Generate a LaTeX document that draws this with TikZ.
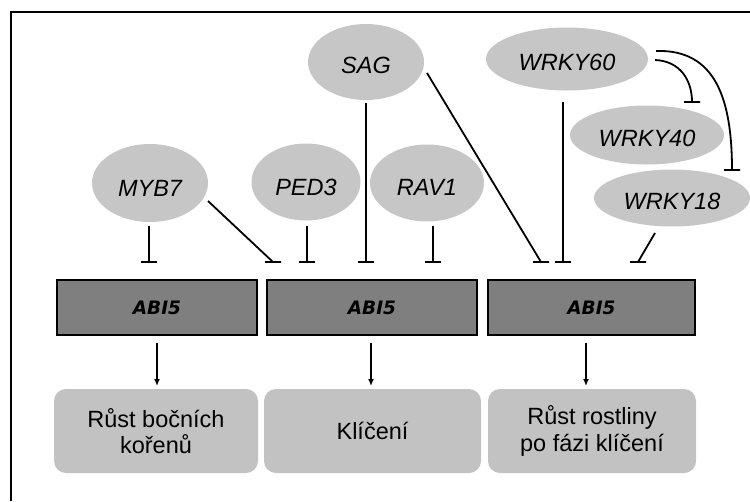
\documentclass[tikz,border=0pt]{standalone}
\usepackage{fontspec}
\setmainfont{Liberation Sans}
\newfontfamily\abifont{DejaVu Sans}
\usetikzlibrary{shapes.geometric,arrows.meta}
\definecolor{genegray}{HTML}{C6C6C6}
\definecolor{resgray}{HTML}{C2C2C2}
\definecolor{abigray}{HTML}{7F7F7F}
\begin{document}
\begin{tikzpicture}[x=1pt,y=-1pt,
  gene/.style={ellipse, fill=genegray, inner sep=0pt},
  genefont/.style={font=\itshape\fontsize{23.5}{27}\selectfont, inner sep=0pt},
  abi/.style={draw=black, line width=2pt, fill=abigray, inner sep=0pt,
    minimum height=55pt, font=\abifont\bfseries\itshape\fontsize{18.5}{20}\selectfont},
  res/.style={fill=resgray, rounded corners=12pt, align=center, inner sep=0pt,
    minimum height=84pt, font=\fontsize{23.5}{26.5}\selectfont},
  conn/.style={line width=1.8pt},
  inhib/.style={conn, to path={-- (\tikztotarget) (\tikztotarget) ++(-8,0) -- ++(16,0)}},
  act/.style={conn, -{Latex[length=7pt,width=6pt]}}]
\useasboundingbox (0,0) rectangle (750,501);
% frame
\draw[line width=2pt] (11,501) -- (11,12) -- (750,12);

% gene ellipses
\node[gene, minimum width=116pt, minimum height=78pt,
  label={[genefont,yshift=-5pt]center:MYB7}] (myb7) at (150,183) {};
\node[gene, minimum width=109pt, minimum height=77pt,
  label={[genefont,yshift=-5pt]center:PED3}] (ped3) at (306,182) {};
\node[gene, minimum width=116pt, minimum height=76pt,
  label={[genefont,yshift=-3pt]center:SAG}] (sag) at (366,62) {};
\node[gene, minimum width=114pt, minimum height=77pt,
  label={[genefont,yshift=-4pt]center:RAV1}] (rav1) at (427,183) {};
\node[gene, minimum width=162pt, minimum height=63pt,
  label={[genefont,yshift=-3pt]center:WRKY60}] (w60) at (567,59) {};
\node[gene, minimum width=154pt, minimum height=59pt,
  label={[genefont,yshift=-3pt]center:WRKY40}] (w40) at (647,135) {};
\node[gene, minimum width=156pt, minimum height=57pt,
  label={[genefont,yshift=-3pt]center:WRKY18}] (w18) at (672,198) {};

% ABI5 boxes
\node[abi, minimum width=200pt] (abi1) at (157,307.5) {ABI5};
\node[abi, minimum width=210pt] (abi2) at (372,307.5) {ABI5};
\node[abi, minimum width=207pt] (abi3) at (591.5,307.5) {ABI5};

% result boxes
\node[res, minimum width=204pt] (res1) at (156,431) {Růst bočních\\kořenů};
\node[res, minimum width=217pt] (res2) at (372.5,431) {Klíčení};
\node[res, minimum width=208pt] (res3) at (592,431) {Růst rostliny\\po fázi klíčení};

% inhibition targets
\coordinate (t1) at (149,262);
\coordinate (t2) at (273,262);
\coordinate (t3) at (307,262);
\coordinate (t4) at (366,262);
\coordinate (t5) at (433,262);
\coordinate (t6) at (541,262);
\coordinate (t7) at (563,262);
\coordinate (t8) at (638,262);
\coordinate (t9) at (692,102);
\coordinate (t10) at (732,170);

\draw[inhib] (149,226) to (t1);
\draw[inhib] (208,201) to (t2);
\draw[inhib] (307,226) to (t3);
\draw[inhib] (sag.south) ++(0,3) to (t4);
\draw[inhib] (433,226) to (t5);
\draw[inhib] (427,73) to (t6);
\draw[inhib] (w60.south) ++(-4,11) to (t7);
\draw[inhib] (655,233) to (t8);

\draw[conn] (655,60) .. controls (680,61) and (692,80) .. (t9)
  (t9) ++(-8,0) -- ++(16,0);
\draw[conn] (656,51) .. controls (716,49) and (732,100) .. (t10)
  (t10) ++(-8,0) -- ++(16,0);

% activation arrows
\draw[act] (157,343) -- (157,386);
\draw[act] (371,343) -- (371,386);
\draw[act] (586,343) -- (586,386);
\end{tikzpicture}
\end{document}
